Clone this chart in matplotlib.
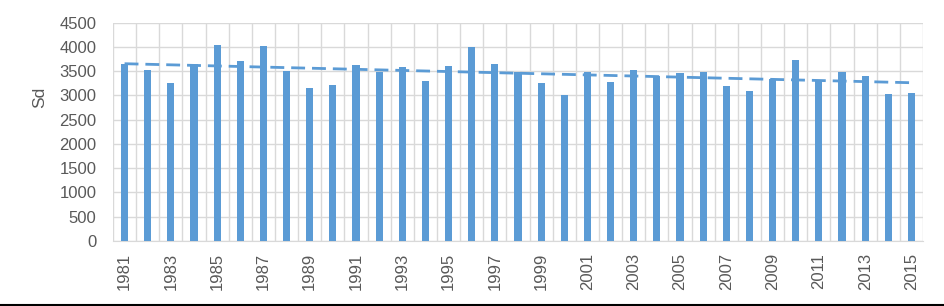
import numpy as np
import matplotlib
matplotlib.use("Agg")
import matplotlib.pyplot as plt

years = list(range(1981, 2016))
sd = [3640, 3520, 3260, 3650, 4050, 3710, 4030, 3500, 3150, 3215,
      3630, 3490, 3590, 3300, 3610, 3990, 3655, 3490, 3260, 3010,
      3490, 3285, 3530, 3400, 3460, 3485, 3195, 3100, 3340, 3730,
      3320, 3485, 3400, 3030, 3050]
yticks = list(range(0, 4501, 500))

bar_color = "#5B9BD5"
grid_color = "#D9D9D9"
text_color = "#595959"

plt.rcParams['font.family'] = ['Liberation Sans', 'DejaVu Sans']

fig = plt.figure(figsize=(9.45, 3.06), dpi=100)
ax = fig.add_axes([113/945, 1 - 241/306, (923-113)/945, (241-22.7)/306])

x = np.arange(len(years))
ax.bar(x, sd, width=0.31, color=bar_color, zorder=3)

# linear trend
coef = np.polyfit(x, sd, 1)
ax.plot(x, np.polyval(coef, x), linestyle=(0, (5, 2.5)), color=bar_color,
        linewidth=2, zorder=4)

ax.set_xlim(-0.5, len(years) - 0.5)
ax.set_ylim(0, 4500)
ax.set_yticks(yticks)
ax.set_yticklabels([str(v) for v in yticks], fontsize=12, color=text_color)
ax.yaxis.grid(True, color=grid_color, linewidth=1, zorder=0)
for b in np.arange(-0.5, len(years), 1.0):
    ax.axvline(b, color=grid_color, linewidth=1, zorder=0)

ax.set_xticks(x[::2])
ax.set_xticklabels([str(y) for y in years[::2]], rotation=90, fontsize=12,
                   color=text_color)
ax.tick_params(axis='y', length=0, pad=12)
ax.tick_params(axis='x', length=0, pad=8.5)
for s in ['top', 'right', 'left']:
    ax.spines[s].set_visible(False)
ax.spines['bottom'].set_color(grid_color)

fig.text(40/945, 1 - 97/306, "Sd", rotation=90, fontsize=12.5, color=text_color,
         ha='center', va='center')

fig.add_artist(plt.Line2D([0, 1], [1.2/306, 1.2/306], color='black', linewidth=1.5,
                          transform=fig.transFigure))

fig.savefig("out.png", dpi=100)
